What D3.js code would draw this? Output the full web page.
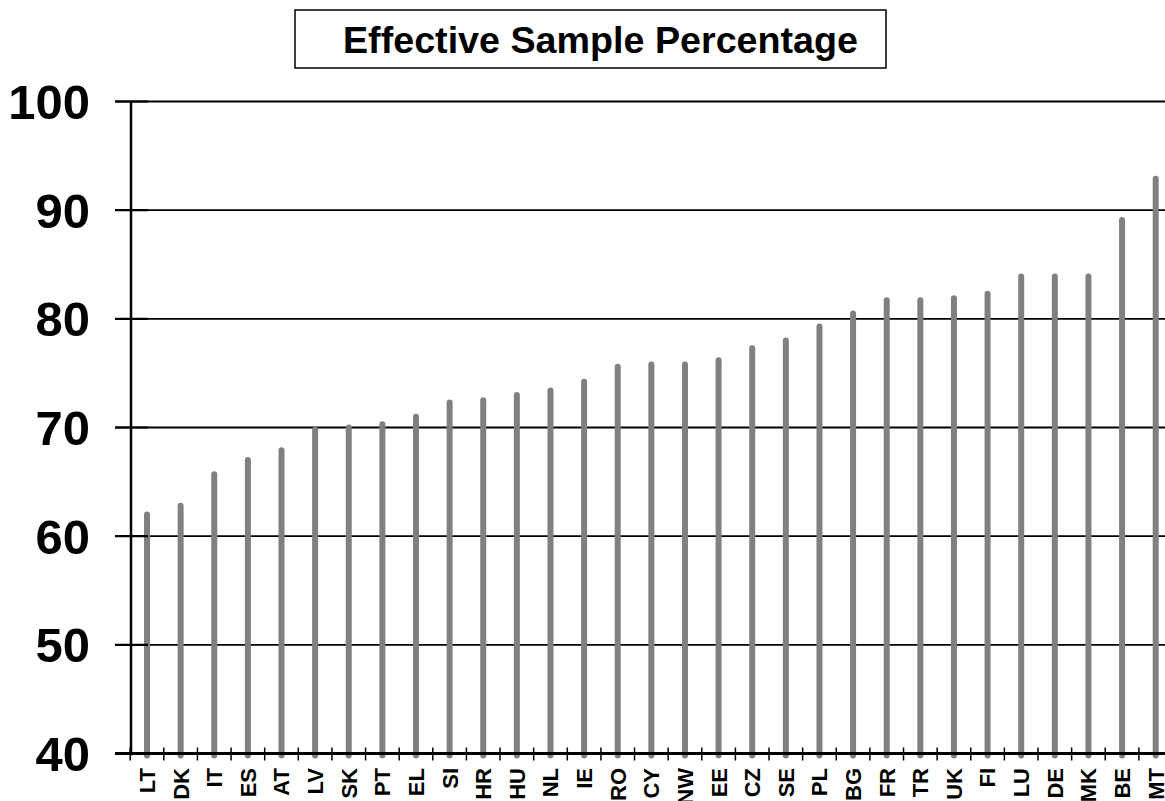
<!DOCTYPE html>
<html>
<head>
<meta charset="utf-8">
<script src="https://cdn.jsdelivr.net/npm/d3@7"></script>
<style>
  body { margin: 0; background: #fff; }
  svg { display: block; font-family: "Liberation Sans", Arial, sans-serif; }
</style>
</head>
<body>
<svg id="chart" width="1165" height="801"></svg>
<script>
// country codes, ordered as in the chart
const countries = ["LT", "DK", "IT", "ES", "AT", "LV", "SK", "PT", "EL", "SI", "HR", "HU", "NL", "IE", "RO",
  "CY", "NW", "EE", "CZ", "SE", "PL", "BG", "FR", "TR", "UK", "FI", "LU", "DE", "MK", "BE", "MT"];

// effective sample percentage per country
const percent = [62.0, 62.8, 65.7, 67.0, 67.9, 69.8, 70.0, 70.3, 71.0, 72.3, 72.5, 73.0, 73.4, 74.2, 75.6,
  75.8, 75.8, 76.2, 77.3, 78.0, 79.3, 80.5, 81.7, 81.7, 81.9, 82.3, 83.9, 83.9, 83.9, 89.1, 92.9];

const yTicks = [40, 50, 60, 70, 80, 90, 100];

const chartTitle = "Effective Sample Percentage";

const svg = d3.select("#chart");

const y = d3.scaleLinear().domain([40, 100]).range([753.5, 101.5]);
const x = d3.scaleBand().domain(countries).range([130.2, 1172.5]).padding(0);

// title box
svg.append("rect")
  .attr("x", 295).attr("y", 10).attr("width", 591).attr("height", 58)
  .attr("fill", "#fff").attr("stroke", "#000").attr("stroke-width", 1.5);
svg.append("text")
  .attr("x", 343).attr("y", 53)
  .attr("font-size", 37).attr("font-weight", "bold")
  .attr("textLength", 515).attr("lengthAdjust", "spacingAndGlyphs")
  .text(chartTitle);

// horizontal gridlines
svg.append("g").selectAll("line")
  .data(yTicks.filter(d => d > 40))
  .join("line")
  .attr("x1", 115).attr("x2", 1172)
  .attr("y1", d => y(d)).attr("y2", d => y(d))
  .attr("stroke", "#000").attr("stroke-width", 1.8);

// y axis labels
svg.append("g").selectAll("text")
  .data(yTicks)
  .join("text")
  .attr("x", 90).attr("y", d => y(d)).attr("dy", "0.36em")
  .attr("text-anchor", "end")
  .attr("font-size", 49).attr("font-weight", "bold")
  .text(d => d);

// bars (thin round-capped lines)
svg.append("g").selectAll("line")
  .data(countries)
  .join("line")
  .attr("x1", d => x(d) + x.bandwidth() / 2).attr("x2", d => x(d) + x.bandwidth() / 2)
  .attr("y1", y(40) + 2).attr("y2", (d, i) => y(percent[i]))
  .attr("stroke", "#808080").attr("stroke-width", 6).attr("stroke-linecap", "round");

// y axis line and inner ticks
svg.append("line")
  .attr("x1", 131).attr("x2", 131).attr("y1", y(100)).attr("y2", y(40) + 2)
  .attr("stroke", "#000").attr("stroke-width", 2.5);
svg.append("g").selectAll("line")
  .data(yTicks)
  .join("line")
  .attr("x1", 115).attr("x2", 148)
  .attr("y1", d => y(d)).attr("y2", d => y(d))
  .attr("stroke", "#000").attr("stroke-width", 2.2);

// x axis line
svg.append("line")
  .attr("x1", 115).attr("x2", 1172).attr("y1", y(40)).attr("y2", y(40))
  .attr("stroke", "#000").attr("stroke-width", 2.8);

// x ticks at band boundaries
svg.append("g").selectAll("line")
  .data(countries.concat(["end"]))
  .join("line")
  .attr("x1", (d, i) => x.range()[0] + i * x.step())
  .attr("x2", (d, i) => x.range()[0] + i * x.step())
  .attr("y1", y(40) - 6).attr("y2", y(40) + 7)
  .attr("stroke", "#000").attr("stroke-width", 1.5);

// x labels, rotated
svg.append("g").selectAll("text")
  .data(countries)
  .join("text")
  .attr("transform", d => `translate(${x(d) + x.bandwidth() / 2},768) rotate(-90)`)
  .attr("dy", "0.36em")
  .attr("text-anchor", "end")
  .attr("font-size", 22).attr("font-weight", "bold")
  .text(d => d);
</script>
</body>
</html>
